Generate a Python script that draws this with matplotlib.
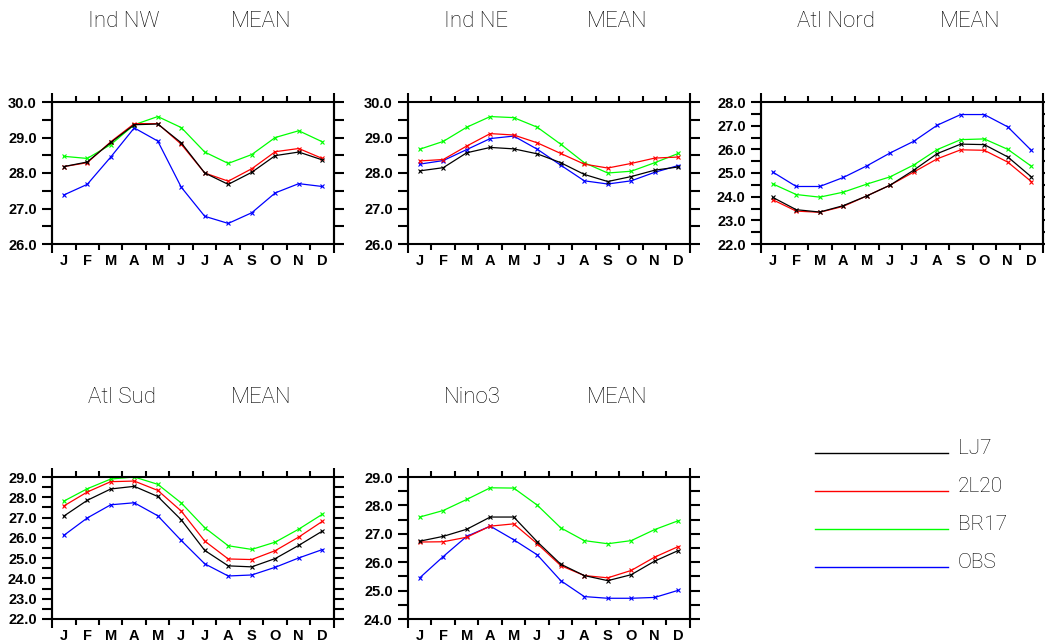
import numpy as np
import matplotlib
matplotlib.use("Agg")
import matplotlib.pyplot as plt
from matplotlib.lines import Line2D
from matplotlib.ticker import MultipleLocator, FormatStrFormatter

# monthly mean SST, one list per run and region
months = ["J", "F", "M", "A", "M", "J", "J", "A", "S", "O", "N", "D"]
run_names = ["LJ7", "2L20", "BR17", "OBS"]
run_colors = ["black", "#ff0000", "#00ff00", "#0000ff"]

ind_nw_lj7 = [28.18, 28.31, 28.86, 29.36, 29.38, 28.85, 28.00, 27.68, 28.02, 28.49, 28.59, 28.37]
ind_nw_2l20 = [28.18, 28.29, 28.88, 29.39, 29.39, 28.81, 28.00, 27.77, 28.12, 28.60, 28.69, 28.41]
ind_nw_br17 = [28.47, 28.41, 28.80, 29.36, 29.59, 29.28, 28.59, 28.27, 28.52, 29.00, 29.19, 28.88]
ind_nw_obs = [27.38, 27.68, 28.45, 29.27, 28.90, 27.60, 26.78, 26.58, 26.88, 27.44, 27.70, 27.62]

ind_ne_lj7 = [28.06, 28.15, 28.57, 28.72, 28.68, 28.54, 28.29, 27.96, 27.76, 27.90, 28.08, 28.17]
ind_ne_2l20 = [28.34, 28.38, 28.76, 29.11, 29.07, 28.85, 28.55, 28.25, 28.14, 28.27, 28.42, 28.45]
ind_ne_br17 = [28.67, 28.89, 29.29, 29.59, 29.56, 29.29, 28.81, 28.29, 28.00, 28.05, 28.29, 28.55]
ind_ne_obs = [28.25, 28.35, 28.66, 28.97, 29.04, 28.67, 28.22, 27.78, 27.69, 27.78, 28.02, 28.21]

atl_nord_lj7 = [23.97, 23.45, 23.35, 23.62, 24.03, 24.49, 25.12, 25.82, 26.22, 26.20, 25.68, 24.84]
atl_nord_2l20 = [23.87, 23.39, 23.34, 23.59, 24.03, 24.49, 25.04, 25.60, 25.98, 25.96, 25.46, 24.64]
atl_nord_br17 = [24.54, 24.09, 23.98, 24.19, 24.53, 24.84, 25.34, 25.99, 26.41, 26.44, 26.00, 25.29]
atl_nord_obs = [25.04, 24.43, 24.43, 24.81, 25.30, 25.85, 26.34, 27.02, 27.47, 27.47, 26.95, 25.96]

atl_sud_lj7 = [27.07, 27.85, 28.41, 28.54, 28.04, 26.89, 25.38, 24.62, 24.57, 24.98, 25.63, 26.33]
atl_sud_2l20 = [27.57, 28.26, 28.77, 28.80, 28.34, 27.32, 25.84, 24.96, 24.93, 25.37, 26.04, 26.81]
atl_sud_br17 = [27.81, 28.42, 28.90, 29.00, 28.64, 27.72, 26.50, 25.61, 25.43, 25.79, 26.43, 27.16]
atl_sud_obs = [26.12, 26.98, 27.63, 27.73, 27.09, 25.87, 24.72, 24.12, 24.17, 24.55, 25.01, 25.42]

nino3_lj7 = [26.74, 26.91, 27.16, 27.59, 27.59, 26.72, 25.93, 25.53, 25.35, 25.56, 26.04, 26.41]
nino3_2l20 = [26.71, 26.72, 26.88, 27.27, 27.35, 26.65, 25.88, 25.53, 25.45, 25.71, 26.18, 26.55]
nino3_br17 = [27.59, 27.82, 28.21, 28.62, 28.61, 28.01, 27.21, 26.76, 26.65, 26.76, 27.15, 27.46]
nino3_obs = [25.45, 26.20, 26.91, 27.27, 26.79, 26.26, 25.35, 24.79, 24.73, 24.73, 24.76, 25.01]

region_names = ["Ind NW", "Ind NE", "Atl Nord", "Atl Sud", "Nino3"]
region_ylims = [(26, 30), (26, 30), (22, 28), (22, 29), (24, 29)]
region_data = [
    [ind_nw_lj7, ind_nw_2l20, ind_nw_br17, ind_nw_obs],
    [ind_ne_lj7, ind_ne_2l20, ind_ne_br17, ind_ne_obs],
    [atl_nord_lj7, atl_nord_2l20, atl_nord_br17, atl_nord_obs],
    [atl_sud_lj7, atl_sud_2l20, atl_sud_br17, atl_sud_obs],
    [nino3_lj7, nino3_2l20, nino3_br17, nino3_obs],
]

W, H = 1045, 642
# panel boxes in pixels: left, top
boxes = [(52, 102), (408, 102), (761, 102), (52, 477), (408, 477)]
pw, ph = 282, 142

fig = plt.figure(figsize=(W / 100, H / 100), dpi=100)
tick_font = {"family": "Liberation Sans", "weight": "bold", "size": 10.5}
title_font = {"family": "Roboto", "weight": "light", "size": 16, "color": "black"}

x = np.arange(12) + 0.5

for i, (left, top) in enumerate(boxes):
    ax = fig.add_axes([left / W, 1 - (top + ph) / H, pw / W, ph / H])

    # draw OBS first so model runs sit on top
    for j in [3, 2, 1, 0]:
        ax.plot(x, region_data[i][j], color=run_colors[j], lw=0.9,
                marker="x", ms=3.5, mew=0.8)

    ax.set_xlim(0, 12)
    ax.set_ylim(*region_ylims[i])

    ax.set_xticks(x)
    ax.set_xticklabels(months)
    ax.set_xticks(np.arange(1, 12), minor=True)
    ax.tick_params(axis="x", which="major", length=0, pad=7.5)
    ax.tick_params(axis="x", which="minor", length=4, width=1.5,
                   direction="out", top=True, bottom=True)

    ax.yaxis.set_major_locator(MultipleLocator(1))
    ax.yaxis.set_minor_locator(MultipleLocator(0.5))
    ax.yaxis.set_major_formatter(FormatStrFormatter("%.1f"))
    ax.tick_params(axis="y", which="both", length=7.5, width=1.5,
                   direction="out", left=True, right=True, pad=3.5)

    for lab in ax.get_xticklabels() + ax.get_yticklabels():
        lab.set_fontproperties(tick_font)
        lab.set_color("black")

    for sp in ax.spines.values():
        sp.set_linewidth(1.5)

    # NCL style: side borders stick out past top and bottom
    ext = 9 / ph
    for xe in [0, 12]:
        ax.plot([xe, xe], [-ext, 1 + ext], color="black", lw=1.5,
                transform=ax.get_xaxis_transform(), clip_on=False,
                solid_capstyle="butt")

    base = 27 if top < 200 else 403
    fig.text((left + 36) / W, 1 - base / H, region_names[i],
             va="baseline", ha="left", **title_font)
    fig.text((left + 179) / W, 1 - base / H, "MEAN",
             va="baseline", ha="left", **title_font)

# legend in the empty slot
leg_y = [453, 491, 529, 567]
for j in range(4):
    fig.add_artist(Line2D([815 / W, 948 / W], [1 - leg_y[j] / H] * 2,
                          color=run_colors[j], lw=1.0))
    fig.text(958 / W, 1 - (leg_y[j] - 4) / H, run_names[j], va="center",
             ha="left", family="Roboto", weight="light", size=15,
             color="black")

fig.savefig("out.png", dpi=100)
